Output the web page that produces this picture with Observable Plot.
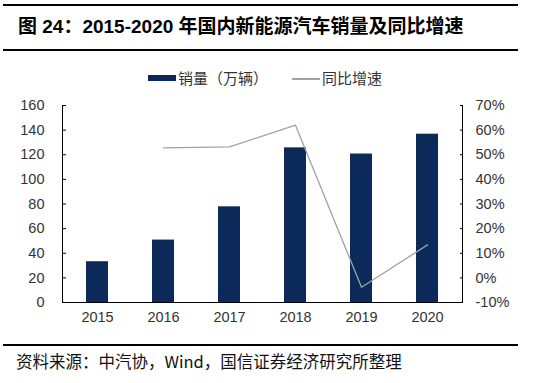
<!DOCTYPE html>
<html><head><meta charset="utf-8">
<script src="https://cdn.jsdelivr.net/npm/d3@7"></script>
<script src="https://cdn.jsdelivr.net/npm/@observablehq/plot@0.6"></script>
<style>
html,body{margin:0;padding:0;background:#fff;}
body{width:536px;height:383px;position:relative;overflow:hidden;font-family:"Liberation Sans",Arial,"Noto Sans CJK SC",sans-serif;}
.rule{position:absolute;left:3px;width:515px;height:2px;background:#000;}
#title{position:absolute;left:18px;top:16px;font-size:19px;font-weight:bold;line-height:22px;color:#000;white-space:nowrap;}
.lg{position:absolute;font-size:15px;line-height:18px;color:#333;white-space:nowrap;font-family:"Noto Sans CJK SC",sans-serif;}
#chart{position:absolute;left:0;top:90px;}
#source{position:absolute;left:16px;top:351px;font-size:16.5px;line-height:21px;color:#111;white-space:nowrap;font-family:"Noto Sans CJK SC","Liberation Sans",sans-serif;}
</style>
</head><body>
<div class="rule" style="top:4px"></div>
<div id="title">图 24：2015-2020 年国内新能源汽车销量及同比增速</div>
<div class="rule" style="top:49px"></div>
<div id="legend"></div>
<div id="chart"></div>
<div class="rule" style="top:344px"></div>
<div id="source">资料来源：中汽协，Wind，国信证券经济研究所整理</div>
<script>
const years = ["2015", "2016", "2017", "2018", "2019", "2020"];
const sales = [33.1, 50.7, 77.7, 125.6, 120.6, 136.7];
const growth = [null, 52.8, 53.2, 62.0, -3.8, 13.4];
const leftTicks = [0, 20, 40, 60, 80, 100, 120, 140, 160];
const rightTicks = [-10, 0, 10, 20, 30, 40, 50, 60, 70];
const seriesNames = ["销量（万辆）", "同比增速"];

const barColor = "#0b2a5a";
const lineColor = "#9da2a9";

const barData = years.map((y, i) => ({year: y, sales: sales[i]}));
const lineData = years.map((y, i) => ({year: y, growth: growth[i]})).filter(d => d.growth != null);
const toLeft = d3.scaleLinear().domain([-10, 70]).range([0, 160]);
const rightPos = rightTicks.map(t => toLeft(t));

// legend
const legend = document.getElementById("legend");
legend.innerHTML =
  `<div style="position:absolute;left:148px;top:75px;width:28px;height:6px;background:${barColor}"></div>` +
  `<div class="lg" style="left:178px;top:69px">${seriesNames[0]}</div>` +
  `<div style="position:absolute;left:292px;top:78px;width:28px;height:1.5px;background:${lineColor}"></div>` +
  `<div class="lg" style="left:322px;top:69px">${seriesNames[1]}</div>`;

const chart = Plot.plot({
  width: 536,
  height: 240,
  marginLeft: 62,
  marginRight: 74,
  marginTop: 15,
  marginBottom: 28,
  style: {fontFamily: "'Liberation Sans', Arial, sans-serif", fontSize: "14.5px", color: "#333", background: "#fff"},
  x: {domain: years, paddingInner: 0.665, paddingOuter: 0.3325, label: null},
  y: {domain: [0, 160], label: null},
  marks: [
    Plot.barY(barData, {x: "year", y: "sales", fill: barColor}),
    Plot.line(lineData, {x: "year", y: d => toLeft(d.growth), stroke: lineColor, strokeWidth: 1.3}),
    Plot.ruleY([0], {stroke: "#000", strokeWidth: 1}),
    Plot.frame({anchor: "left", stroke: "#000"}),
    Plot.frame({anchor: "right", stroke: "#000"}),
    Plot.axisY({ticks: leftTicks, tickSize: 4, dx: 4, fill: "none", stroke: "#000", label: null}),
    Plot.axisY({ticks: leftTicks, tickSize: 0, tickPadding: 18, label: null, fill: "#333"}),
    Plot.axisY({anchor: "right", ticks: rightPos, tickSize: 3, dx: -3, fill: "none", stroke: "#000", label: null}),
    Plot.axisY({anchor: "right", ticks: rightPos, tickSize: 0, tickPadding: 13, label: null, fill: "#333",
      tickFormat: v => Math.round(toLeft.invert(v)) + "%"}),
    Plot.axisX({tickSize: 0, tickPadding: 9, label: null, fill: "#333"})
  ]
});
document.getElementById("chart").appendChild(chart);
</script>
</body></html>
